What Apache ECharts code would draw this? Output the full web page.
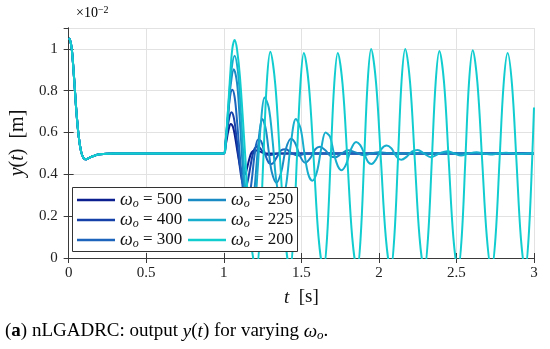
<!DOCTYPE html>
<html><head><meta charset="utf-8">
<script src="https://cdn.jsdelivr.net/npm/echarts@6/dist/echarts.min.js"></script>
<style>html,body{margin:0;padding:0;background:#fff}#c{width:550px;height:349px}</style>
</head><body><div id="c"></div>
<script>
// ---- data (t in s, y in 1e-2 m) ----
const omegaLabels = ['500', '400', '300', '250', '225', '200'];

const startPhase = [[0,1.05],[0.008,1.045],[0.02,1.0],[0.035,0.86],[0.05,0.7],[0.065,0.58],[0.08,0.51],
  [0.095,0.48],[0.11,0.472],[0.13,0.478],[0.16,0.488],[0.2,0.496],[0.3,0.5],[0.6,0.5]];

const w500 = [[1.0,0.5],[1.01,0.53],[1.02,0.57],[1.03,0.61],[1.045,0.641],[1.06,0.625],[1.075,0.57],[1.09,0.5],
  [1.105,0.44],[1.12,0.405],[1.135,0.4],[1.15,0.43],[1.165,0.475],[1.18,0.505],[1.2,0.515],[1.23,0.51],
  [1.27,0.5],[1.35,0.5],[3.0,0.5]];

const w400 = [[1.0,0.5],[1.01,0.54],[1.02,0.6],[1.035,0.67],[1.05,0.697],[1.065,0.67],[1.08,0.59],[1.095,0.49],
  [1.11,0.4],[1.125,0.35],[1.14,0.34],[1.155,0.37],[1.17,0.43],[1.185,0.49],[1.2,0.525],[1.22,0.535],
  [1.245,0.515],[1.27,0.495],[1.3,0.493],[1.35,0.5],[3.0,0.5]];

const w300 = [[1.0,0.5],[1.01,0.55],[1.025,0.66],[1.04,0.77],[1.055,0.805],[1.07,0.77],[1.085,0.66],[1.1,0.52],
  [1.115,0.39],[1.13,0.29],[1.145,0.25],[1.16,0.27],[1.18,0.37],[1.2,0.5],[1.22,0.565],[1.24,0.56],
  [1.265,0.5],[1.29,0.455],[1.31,0.45],[1.34,0.48],[1.37,0.515],[1.4,0.52],[1.44,0.5],[1.48,0.49],
  [1.53,0.5],[3.0,0.5]];

const w250 = [[1.0,0.5],[1.015,0.57],[1.03,0.7],[1.045,0.83],[1.065,0.903],[1.085,0.84],[1.1,0.7],[1.115,0.52],
  [1.13,0.34],[1.145,0.18],[1.16,0.13],[1.175,0.17],[1.195,0.3],[1.215,0.48],[1.23,0.6],[1.248,0.665],
  [1.27,0.62],[1.29,0.51],[1.31,0.41],[1.34,0.36],[1.37,0.41],[1.4,0.52],[1.433,0.57],[1.46,0.55],
  [1.49,0.49],[1.525,0.455],[1.56,0.48],[1.59,0.52],[1.62,0.532],[1.655,0.515],[1.69,0.487],[1.72,0.482],
  [1.76,0.5],[1.8,0.515],[1.85,0.505],[1.9,0.492],[1.95,0.5],[2.0,0.506],[2.1,0.498],[2.2,0.502],[3.0,0.5]];

const w225 = [[1.0,0.5],[1.015,0.58],[1.03,0.73],[1.05,0.9],[1.07,0.967],[1.09,0.9],[1.105,0.76],[1.12,0.57],
  [1.135,0.37],[1.15,0.18],[1.165,0.09],[1.18,0.1],[1.2,0.22],[1.22,0.44],[1.24,0.65],[1.263,0.768],
  [1.29,0.72],[1.315,0.56],[1.34,0.36],[1.37,0.27],[1.4,0.34],[1.43,0.53],[1.465,0.665],[1.495,0.62],
  [1.52,0.5],[1.545,0.4],[1.571,0.37],[1.6,0.41],[1.63,0.53],[1.656,0.6],[1.685,0.58],[1.71,0.5],
  [1.735,0.44],[1.76,0.42],[1.79,0.45],[1.82,0.52],[1.853,0.555],[1.88,0.54],[1.905,0.5],[1.93,0.46],
  [1.953,0.45],[1.98,0.47],[2.015,0.52],[2.05,0.538],[2.08,0.525],[2.1,0.5],[2.12,0.48],[2.145,0.47],
  [2.18,0.485],[2.215,0.51],[2.25,0.517],[2.29,0.5],[2.336,0.482],[2.39,0.5],[2.44,0.511],[2.485,0.5],
  [2.53,0.49],[2.58,0.5],[2.63,0.506],[2.675,0.5],[2.72,0.495],[2.77,0.5],[2.82,0.503],[2.87,0.5],
  [2.91,0.497],[2.96,0.5],[3.0,0.501]];

const w200 = [[1.0,0.5],[1.01,0.54],[1.025,0.68],[1.04,0.86],[1.055,1.0],[1.07,1.043],[1.085,1.0],[1.105,0.86],
  [1.14,0.47],[1.175,0.08],[1.21,-0.06],
  [1.2325,0.1],[1.255,0.47],[1.2775,0.84],[1.30,0.986],
  [1.332,0.83],[1.363,0.47],[1.395,0.1],[1.427,-0.06],
  [1.449,0.1],[1.471,0.47],[1.494,0.83],[1.516,0.98],
  [1.548,0.83],[1.58,0.47],[1.611,0.1],[1.643,-0.06],
  [1.666,0.1],[1.689,0.47],[1.712,0.83],[1.735,0.98],
  [1.766,0.83],[1.797,0.47],[1.828,0.1],[1.86,-0.06],
  [1.8825,0.1],[1.905,0.47],[1.9275,0.84],[1.95,0.999],
  [1.9815,0.84],[2.013,0.47],[2.0445,0.1],[2.076,-0.06],
  [2.0995,0.1],[2.123,0.47],[2.1465,0.85],[2.17,1.0],
  [2.201,0.84],[2.2315,0.47],[2.262,0.1],[2.293,-0.06],
  [2.317,0.1],[2.3415,0.47],[2.366,0.84],[2.39,0.99],
  [2.42,0.84],[2.45,0.47],[2.48,0.1],[2.51,-0.06],
  [2.534,0.1],[2.5575,0.47],[2.581,0.84],[2.605,0.994],
  [2.635,0.84],[2.6655,0.47],[2.696,0.1],[2.726,-0.06],
  [2.752,0.1],[2.778,0.47],[2.804,0.83],[2.83,0.98],
  [2.858,0.83],[2.8865,0.47],[2.915,0.1],[2.943,-0.06],
  [2.9655,0.1],[2.988,0.47],[3.0,0.72]];

const seriesData = [w500, w400, w300, w250, w225, w200];
const lineColors = ['#0b1f8f', '#1440a8', '#1c64bc', '#1a8ac4', '#17aece', '#12cdd0'];

const serif = 'Liberation Serif';
const chart = echarts.init(document.getElementById('c'), null, {renderer: 'canvas'});

const axisCommon = {
  type: 'value',
  axisLine: {show: true, lineStyle: {color: '#3a3a3a', width: 1}},
  axisTick: {show: true, inside: true, length: 5, lineStyle: {color: '#3a3a3a'}},
  splitLine: {show: false},
  axisLabel: {show: false}
};

const legendRich = {
  w: {fontFamily: serif, fontStyle: 'italic', fontSize: 18, color: '#111'},
  s: {fontFamily: serif, fontStyle: 'italic', fontSize: 12, color: '#111', padding: [8, 0, 0, 0]},
  r: {fontFamily: serif, fontSize: 17, color: '#111'}
};
const legendBase = {
  orient: 'vertical', itemGap: 0, itemWidth: 38, itemHeight: 2.5, icon: 'rect', padding: 0,
  selectedMode: false, z: 10,
  formatter: n => '{w|ω}{s|o}{r| = ' + n + '}',
  textStyle: {lineHeight: 20, rich: legendRich}
};

chart.setOption({
  animation: false,
  backgroundColor: '#fff',
  grid: {left: 65, right: 16, top: 28, bottom: 91},
  xAxis: [
    Object.assign({}, axisCommon, {
      position: 'bottom', min: 0, max: 3, interval: 0.5,
      splitLine: {show: true, lineStyle: {color: '#e2e2e2', width: 1}},
      axisLabel: {show: true, fontFamily: serif, fontSize: 15, color: '#222', margin: 8},
      name: '{i|t}{r|  [s]}', nameLocation: 'middle', nameGap: 30,
      nameTextStyle: {rich: {
        i: {fontFamily: serif, fontStyle: 'italic', fontSize: 19, color: '#111'},
        r: {fontFamily: serif, fontSize: 19, color: '#111'}}}
    }),
    Object.assign({}, axisCommon, {position: 'top', min: 0, max: 3, interval: 0.5})
  ],
  yAxis: [
    Object.assign({}, axisCommon, {
      position: 'left', min: 0, max: 1.1, interval: 0.2,
      splitLine: {show: true, lineStyle: {color: '#e2e2e2', width: 1}},
      axisLabel: {show: true, fontFamily: serif, fontSize: 15, color: '#222', margin: 11, showMaxLabel: false},
      name: '{i|y}{r|(}{i|t}{r|)  [m]}', nameLocation: 'middle', nameGap: 35, nameRotate: 90,
      nameTextStyle: {rich: {
        i: {fontFamily: serif, fontStyle: 'italic', fontSize: 20, color: '#111'},
        r: {fontFamily: serif, fontSize: 20, color: '#111'}}}
    }),
    Object.assign({}, axisCommon, {position: 'right', min: 0, max: 1.1, interval: 0.2})
  ],
  legend: [
    Object.assign({}, legendBase, {data: omegaLabels.slice(0, 3), left: 77, top: 190}),
    Object.assign({}, legendBase, {data: omegaLabels.slice(3), left: 188, top: 190})
  ],
  graphic: [
    {type: 'rect', z: 5, shape: {x: 72.5, y: 187.5, width: 225, height: 64},
     style: {fill: '#fff', stroke: '#333', lineWidth: 1}},
    {type: 'text', left: 76, top: 5, z: 10,
     style: {text: '{a|×10}{b|−2}', rich: {
       a: {fontFamily: serif, fontSize: 14, color: '#222'},
       b: {fontFamily: serif, fontSize: 10, color: '#222', padding: [0, 0, 7, 0]}}}},
    {type: 'text', left: 5, top: 322, z: 10,
     style: {text: '{n|(}{b|a}{n|) nLGADRC: output }{i|y}{n|(}{i|t}{n|) for varying }{i|ω}{s|o}{n|.}',
       rich: {
         n: {fontFamily: serif, fontSize: 19, color: '#111'},
         b: {fontFamily: serif, fontSize: 19, fontWeight: 'bold', color: '#111'},
         i: {fontFamily: serif, fontSize: 19, fontStyle: 'italic', color: '#111'},
         s: {fontFamily: serif, fontSize: 13, fontStyle: 'italic', color: '#111', padding: [8, 0, 0, 0]}}}}
  ],
  series: omegaLabels.map((name, i) => ({
    name: name,
    type: 'line',
    xAxisIndex: 0, yAxisIndex: 0,
    data: startPhase.concat(seriesData[i]),
    showSymbol: false, symbol: 'none',
    smooth: 0.35,
    clip: true,
    z: 2,
    lineStyle: {color: lineColors[i], width: 2},
    itemStyle: {color: lineColors[i]}
  }))
});
</script>
</body></html>
